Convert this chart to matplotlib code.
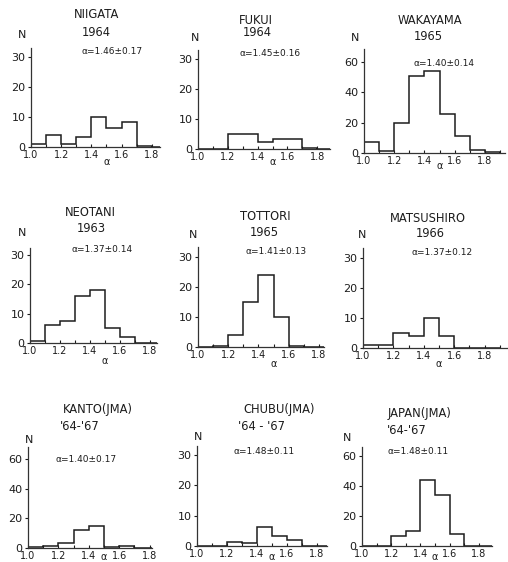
import matplotlib.pyplot as plt
from matplotlib.ticker import FixedLocator

W, H = 508, 562

# bin edges of alpha (0.1 wide)
edges = [1.0, 1.1, 1.2, 1.3, 1.4, 1.5, 1.6, 1.7, 1.8, 1.9]

niigata = [1, 4, 1, 3.5, 10, 6.5, 8.5, 0.5, 0]
fukui = [0, 0, 5, 5, 2.5, 3.5, 3.5, 0.5, 0]
wakayama = [7.5, 1.5, 20, 51, 54, 26, 11, 2, 0.5]
neotani = [0.7, 6, 7.5, 16, 18, 5, 2, 0, 0]
tottori = [0, 0.4, 4, 15, 24, 10, 0.4, 0, 0]
matsushiro = [1, 1, 5, 4, 10, 4, 0, 0, 0]
kanto = [1, 1.5, 3.3, 12, 15, 0.5, 1.5, 0, 0]
chubu = [0, 0, 1.3, 1.1, 6.3, 3.2, 2, 0, 0]
japan = [0, 0, 7, 10, 44, 34, 8, 0, 0]

counts = [niigata, fukui, wakayama, neotani, tottori, matsushiro, kanto, chubu, japan]
names = ['NIIGATA', 'FUKUI', 'WAKAYAMA', 'NEOTANI', 'TOTTORI', 'MATSUSHIRO',
         'KANTO(JMA)', 'CHUBU(JMA)', 'JAPAN(JMA)']
periods = ['1964', '1964', '1965', '1963', '1965', '1966', "'64-'67", "'64 - '67", "'64-'67"]
alphas = ['α=1.46±0.17', 'α=1.45±0.16', 'α=1.40±0.14', 'α=1.37±0.14', 'α=1.41±0.13',
          'α=1.37±0.12', 'α=1.40±0.17', 'α=1.48±0.11', 'α=1.48±0.11']
full_scale = [30, 30, 60, 30, 30, 30, 60, 30, 60]
x_ticks = [1.0, 1.2, 1.4, 1.6, 1.8]
x_labels = ['1.0', '1.2', '1.4', '1.6', '1.8']

# pixel layout: x of alpha=1.0, px per 0.1, y of zero, y of full scale, y of spine top, x of axis end
layout = [
    (31, 15.1, 147, 57, 48, 160),
    (198, 14.9, 149, 59, 50, 330),
    (364, 15.1, 153, 62, 49, 505),
    (30, 15.0, 343, 255, 248, 157),
    (198, 15.1, 347, 257, 247, 324),
    (363, 15.2, 348, 258, 248, 508),
    (28, 15.2, 548, 459, 447, 152),
    (197, 15.0, 546, 455, 446, 327),
    (362, 14.6, 546, 456, 447, 492),
]
# text anchors in pixels
title_pos = [((97, 15, 'center'), (96, 32, 'center')),
             ((256, 20, 'center'), (257, 33, 'center')),
             ((430, 21, 'center'), (428, 36, 'center')),
             ((90, 213, 'center'), (91, 228, 'center')),
             ((265, 217, 'center'), (264, 232, 'center')),
             ((428, 218, 'center'), (430, 233, 'center')),
             ((63, 410, 'left'), (60, 427, 'left')),
             ((243, 410, 'left'), (238, 427, 'left')),
             ((388, 413, 'left'), (387, 430, 'left'))]
n_pos = [(22, 35), (195, 38), (355, 38), (22, 233), (193, 235), (362, 235),
         (29, 440), (198, 437), (347, 438)]
alpha_pos = [(82, 52), (240, 53), (413, 64), (72, 250), (245, 252), (412, 253),
             (55, 460), (233, 452), (387, 452)]
# vertical position of the x label, pixels
xlab_y = [162, 162, 166, 361, 364, 364, 557, 557, 557]

INK = '#1c1c1c'
plt.rcParams['font.family'] = 'DejaVu Sans'

fig = plt.figure(figsize=(W / 100, H / 100), dpi=100)


def fx(x):
    return x / W


def fy(y):
    return 1 - y / H


for i in range(9):
    sx, ppt, zy, fsy, ty, rx = layout[i]
    ax = fig.add_axes([fx(sx), fy(zy), (rx - sx) / W, (zy - ty) / H])
    ax.set_xlim(1.0, 1.0 + (rx - sx) / ppt * 0.1)
    ax.set_ylim(0, full_scale[i] * (zy - ty) / (zy - fsy))
    ax.stairs(counts[i], edges, color=INK, linewidth=1.1)

    for s in ['top', 'right']:
        ax.spines[s].set_visible(False)
    for s in ['left', 'bottom']:
        ax.spines[s].set_color('#333333')
        ax.spines[s].set_linewidth(0.9)

    ax.set_xticks(x_ticks)
    ax.set_xticklabels(x_labels)
    ax.xaxis.set_minor_locator(FixedLocator([1.1, 1.3, 1.5, 1.7, 1.9]))
    step = full_scale[i] // 3
    ax.set_yticks([0, step, 2 * step, 3 * step])
    ax.tick_params(axis='y', direction='out', length=2.5, width=0.8, pad=1.5,
                   labelsize=8, colors=INK)
    ax.tick_params(axis='x', which='both', direction='in', length=2.5, width=0.8,
                   pad=2, labelsize=7, colors=INK)

    (t1x, t1y, ha1), (t2x, t2y, ha2) = title_pos[i]
    fig.text(fx(t1x), fy(t1y), names[i], ha=ha1, va='center', fontsize=8.3, color=INK)
    fig.text(fx(t2x), fy(t2y), periods[i], ha=ha2, va='center', fontsize=8.3, color=INK)
    fig.text(fx(n_pos[i][0]), fy(n_pos[i][1]), 'N', ha='center', va='center',
             fontsize=8, color=INK)
    fig.text(fx(alpha_pos[i][0]), fy(alpha_pos[i][1]), alphas[i], ha='left', va='center',
             fontsize=6.5, color=INK)
    # x label sits between the 1.4 and 1.6 tick labels
    fig.text(fx(sx + 5 * ppt), fy(xlab_y[i]), 'α', ha='center', va='center',
             fontsize=7, color=INK)

fig.savefig('out.png', dpi=100)
